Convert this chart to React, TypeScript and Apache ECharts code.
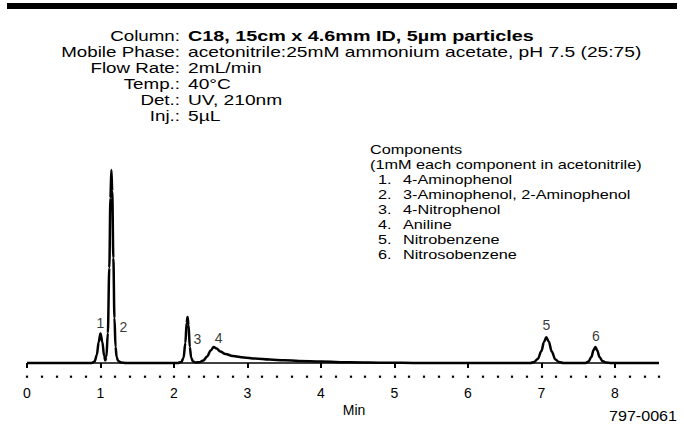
import React, { useEffect, useRef } from "react";
import * as echarts from "echarts";

// Chromatogram trace (time in min, detector signal in arbitrary units)
const traceTime = [
  0, 0.5, 0.88,
  0.92, 0.95, 0.975, 1.0, 1.025, 1.05, 1.065,
  1.08, 1.1, 1.12, 1.135, 1.148, 1.16, 1.175, 1.19, 1.205, 1.22, 1.24, 1.28, 1.35,
  1.6, 2.05,
  2.1, 2.13, 2.155, 2.172, 2.185, 2.198, 2.215, 2.235, 2.26, 2.3, 2.35,
  2.4, 2.45, 2.5, 2.54, 2.58, 2.63, 2.7, 2.8, 2.95, 3.1, 3.3, 3.5, 3.7, 4.0, 4.4, 4.9, 5.3,
  6.0, 6.85,
  6.9, 6.95, 7.0, 7.035, 7.066, 7.1, 7.14, 7.19, 7.24, 7.3,
  7.6,
  7.64, 7.68, 7.71, 7.735, 7.76, 7.79, 7.83, 7.88, 7.95,
  8.6,
];
const traceSignal = [
  0, 0, 0,
  1.5, 8, 21, 29.5, 21, 7, 2.5,
  6, 30, 95, 165, 193, 172, 105, 45, 16, 6, 2, 0.5, 0,
  0, 0,
  1, 5, 20, 40, 46, 38, 16, 5, 1.5, 0.5, 0.8,
  2.5, 6.5, 12.5, 16, 14.5, 11.5, 9, 7, 5.5, 4.4, 3.4, 2.7, 2.1, 1.4, 0.8, 0.3, 0,
  0, 0,
  1, 4, 12, 21, 25.7, 21.5, 11.5, 3.5, 1, 0,
  0,
  1.5, 6, 13, 16, 12.5, 6, 2, 0.5, 0,
  0,
];

// Peak numbers and where their labels sit
const peakNames = ["1", "2", "3", "4", "5", "6"];
const peakLabelTime = [0.997, 1.31, 2.32, 2.607, 7.066, 7.74];
const peakLabelSignal = [40, 36, 24, 25.5, 38, 27];

// Axis ticks
const majorTicks = [0, 1, 2, 3, 4, 5, 6, 7, 8];
const axisMin = 0;
const axisMax = 8.6;
const minorStep = 0.2;

// Texts
const headerLabels = ["Column:", "Mobile Phase:", "Flow Rate:", "Temp.:", "Det.:", "Inj.:"];
const headerValues = [
  "C18, 15cm x 4.6mm ID, 5µm particles",
  "acetonitrile:25mM ammonium acetate, pH 7.5 (25:75)",
  "2mL/min",
  "40°C",
  "UV, 210nm",
  "5µL",
];
const componentsTitle = ["Components", "(1mM each component in acetonitrile)"];
const componentNumbers = ["1.", "2.", "3.", "4.", "5.", "6."];
const componentNames = [
  "4-Aminophenol",
  "3-Aminophenol, 2-Aminophenol",
  "4-Nitrophenol",
  "Aniline",
  "Nitrobenzene",
  "Nitrosobenzene",
];
const figureId = "797-0061";
const axisTitle = "Min";

const FONT = "'Liberation Sans', Arial, Helvetica, sans-serif";
const SX = 1.25;

export default function App() {
  const ref = useRef<HTMLDivElement>(null);

  useEffect(() => {
    document.body.style.margin = "0";
    if (!ref.current) return;
    const chart = echarts.init(ref.current, undefined, { renderer: "svg" });

    const trace = traceTime.map((t, i) => [t, traceSignal[i]]);
    const labels = peakNames.map((n, i) => ({ name: n, value: [peakLabelTime[i], peakLabelSignal[i]] }));

    const graphics: any[] = [
      { type: "rect", shape: { x: 7, y: 3, width: 670, height: 6 }, style: { fill: "#000" } },
    ];
    const headerY0 = 36;
    const headerStep = 16;
    headerLabels.forEach((lab, i) => {
      graphics.push({
        type: "text",
        x: 180,
        y: headerY0 + i * headerStep,
        scaleX: SX,
        style: { text: lab, align: "right", verticalAlign: "middle", fontSize: 15, fontFamily: FONT, fill: "#000" },
      });
      graphics.push({
        type: "text",
        x: 188,
        y: headerY0 + i * headerStep,
        scaleX: i === 0 ? 1.32 : 1.28,
        style: {
          text: headerValues[i],
          align: "left",
          verticalAlign: "middle",
          fontSize: 15,
          fontWeight: i === 0 ? "bold" : "normal",
          fontFamily: FONT,
          fill: "#000",
        },
      });
    });
    const compY0 = 150;
    const compStep = 15;
    componentsTitle.forEach((t, i) => {
      graphics.push({
        type: "text",
        x: 370,
        y: compY0 + i * compStep,
        scaleX: SX,
        style: { text: t, align: "left", verticalAlign: "middle", fontSize: 13, fontFamily: FONT, fill: "#000" },
      });
    });
    componentNames.forEach((t, i) => {
      const y = compY0 + (i + 2) * compStep;
      graphics.push({
        type: "text",
        x: 378,
        y,
        scaleX: SX,
        style: { text: componentNumbers[i], align: "left", verticalAlign: "middle", fontSize: 13, fontFamily: FONT, fill: "#000" },
      });
      graphics.push({
        type: "text",
        x: 403,
        y,
        scaleX: SX,
        style: { text: t, align: "left", verticalAlign: "middle", fontSize: 13, fontFamily: FONT, fill: "#000" },
      });
    });
    graphics.push({
      type: "text",
      x: 677,
      y: 416,
      scaleX: 1.15,
      style: { text: figureId, align: "right", verticalAlign: "middle", fontSize: 14, fontFamily: FONT, fill: "#000" },
    });

    chart.setOption({
      animation: false,
      backgroundColor: "#fff",
      grid: { left: 27, right: 25, top: 170, bottom: 68 },
      xAxis: [
        {
          type: "value",
          min: axisMin,
          max: axisMax,
          interval: 1,
          position: "bottom",
          offset: 11,
          axisLine: { show: false },
          splitLine: { show: false },
          axisTick: { show: true, customValues: majorTicks, length: 5, lineStyle: { color: "#000", width: 2 } },
          axisLabel: {
            customValues: majorTicks,
            margin: 12,
            fontSize: 14,
            color: "#000",
            fontFamily: FONT,
          },
          name: axisTitle,
          nameLocation: "middle",
          nameGap: 29,
          nameTextStyle: { fontSize: 14, color: "#000", fontFamily: FONT, padding: [0, 0, 0, 22] },
        },
        {
          type: "value",
          min: axisMin,
          max: axisMax,
          interval: minorStep,
          position: "bottom",
          offset: 12.6,
          axisLine: { show: false },
          splitLine: { show: false },
          axisLabel: { show: false },
          axisTick: { show: true, length: 2.2, lineStyle: { color: "#000", width: 2.2 } },
        },
      ],
      yAxis: { type: "value", min: 0, max: 193, show: false },
      series: [
        {
          type: "line",
          name: "baseline",
          data: [[axisMin, 0], [axisMax, 0]],
          symbol: "none",
          clip: false,
          lineStyle: { color: "#000", width: 1.5 },
          silent: true,
        },
        {
          type: "line",
          name: "signal",
          data: trace,
          symbol: "none",
          smooth: 0.35,
          smoothMonotone: "x",
          clip: false,
          lineStyle: { color: "#000", width: 2.5 },
        },
        {
          type: "scatter",
          name: "peaks",
          data: labels,
          symbolSize: 0,
          clip: false,
          label: {
            show: true,
            position: "inside",
            formatter: "{b}",
            fontSize: 14,
            color: "#000",
            fontFamily: FONT,
          },
        },
      ],
      graphic: graphics,
    });

    return () => chart.dispose();
  }, []);

  return <div ref={ref} style={{ width: 684, height: 431 }} />;
}
